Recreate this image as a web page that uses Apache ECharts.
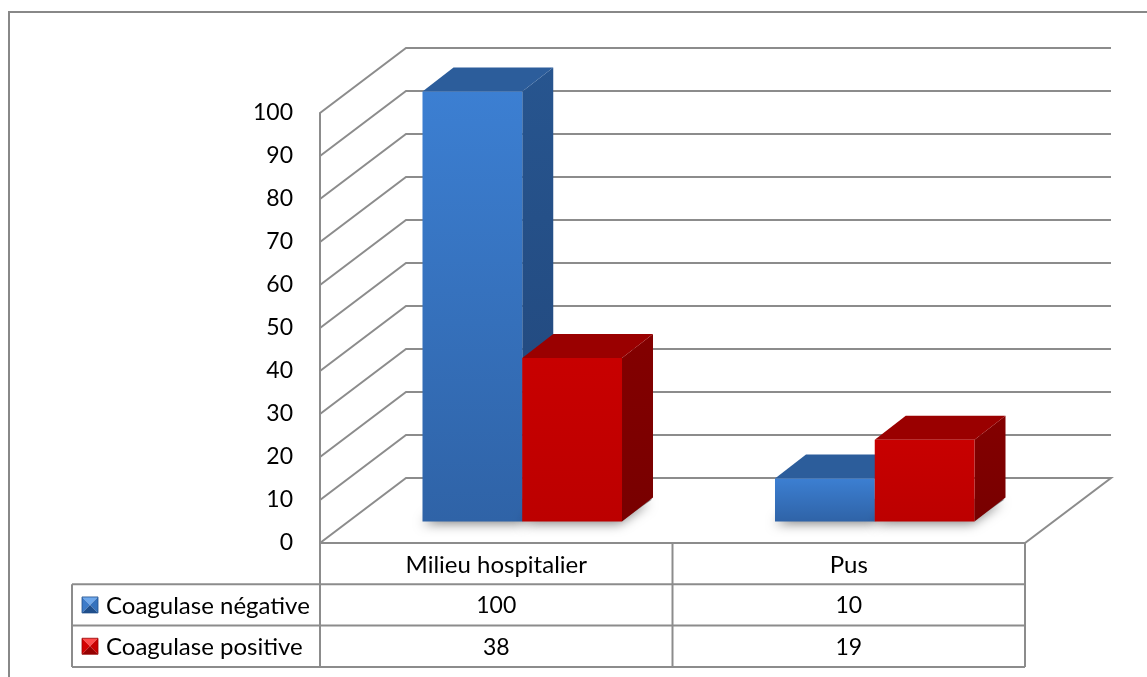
<!DOCTYPE html>
<html><head><meta charset="utf-8">
<script src="https://cdn.jsdelivr.net/npm/echarts@6/dist/echarts.min.js"></script>
<style>html,body{margin:0;padding:0;background:#fff}#c{width:1147px;height:677px}</style>
</head><body><div id="c"></div>
<script>
// ---- data ----
const categories = ['Milieu hospitalier', 'Pus'];
const seriesNames = ['Coagulase négative', 'Coagulase positive'];
const negValues = [100, 10];
const posValues = [38, 19];
const yTicks = [0, 10, 20, 30, 40, 50, 60, 70, 80, 90, 100];

// ---- style constants ----
const FONT = 'Lato';
const FS = 23;      // digits
const FS_TXT = 24;  // words
const LINE = '#8c8c8c';
const DX = 86, DY = -65;          // depth of floor / walls
const FX = 28.5, FY = -21.5;      // bar front offset into depth
const BX = 31, BY = -24;          // bar depth
const BAR_FRAC = 0.283, SHIFT = 2.5;
const ROW_H = 41.3;

const palettes = [
  {front: ['#3c7fd2', '#2f63a7'], side: ['#27558f', '#21467a'], top: '#2c5d9b',
   key: {t: '#6ea8ec', l: '#3c7bc9', r: '#3572bd', b: '#1f4f8c'}},
  {front: ['#c80000', '#bc0000'], side: ['#830000', '#780000'], top: '#9a0000',
   key: {t: '#ff4a4a', l: '#d40000', r: '#c80000', b: '#960000'}}
];
const allValues = [negValues, posValues];

function grad(a, b) {
  return {type: 'linear', x: 0, y: 0, x2: 0, y2: 1, colorStops: [{offset: 0, color: a}, {offset: 1, color: b}]};
}

function wallRender(params, api) {
  const cs = params.coordSys;
  const v = api.value(1);
  const y = api.coord([0, v])[1];
  const x0 = cs.x, x1 = cs.x + cs.width;
  const pts = v === 0
    ? [[x0, y], [x0 + DX, y + DY], [x1 + DX, y + DY], [x1, y], [x0, y]]
    : [[x0, y], [x0 + DX, y + DY], [x1 + DX, y + DY]];
  return {type: 'polyline', shape: {points: pts}, style: {stroke: LINE, lineWidth: 2, fill: null}};
}

function barRender(sIdx) {
  const p = palettes[sIdx];
  return function (params, api) {
    const ci = api.value(0), v = api.value(1);
    const base = api.coord([ci, 0]);
    const top = api.coord([ci, v]);
    const band = api.size([1, 0])[0];
    const bw = band * BAR_FRAC;
    const left = base[0] - bw - SHIFT + sIdx * bw + FX;
    const right = left + bw;
    const yb = base[1] + FY, yt = top[1] + FY;
    return {type: 'group', children: [
      {type: 'polygon', shape: {points: [[left + 3, yb - 1], [left + BX, yb + BY], [right + BX - 1, yb + BY + 2], [right, yb - 1]]},
        style: {fill: '#8a8a8a', shadowBlur: 12, shadowColor: 'rgba(0,0,0,0.5)', shadowOffsetX: -3, shadowOffsetY: 3}},
      {type: 'polygon', shape: {points: [[right, yt], [right + BX, yt + BY], [right + BX, yb + BY], [right, yb]]},
        style: {fill: grad(p.side[0], p.side[1])}},
      {type: 'polygon', shape: {points: [[left, yt], [left + BX, yt + BY], [right + BX, yt + BY], [right, yt]]},
        style: {fill: p.top}},
      {type: 'rect', shape: {x: left, y: yt, width: bw, height: yb - yt},
        style: {fill: grad(p.front[0], p.front[1])}}
    ]};
  };
}

function keyIcon(x, y, s, k) {
  const c = [x + s / 2, y + s / 2];
  return [
    {type: 'polygon', shape: {points: [[x, y], [x + s, y], c]}, style: {fill: k.t}},
    {type: 'polygon', shape: {points: [[x, y], c, [x, y + s]]}, style: {fill: k.l}},
    {type: 'polygon', shape: {points: [[x + s, y], [x + s, y + s], c]}, style: {fill: k.r}},
    {type: 'polygon', shape: {points: [[x, y + s], c, [x + s, y + s]]}, style: {fill: k.b}},
    {type: 'rect', shape: {x: x, y: y, width: s, height: s}, style: {fill: null, stroke: k.b, lineWidth: 0.8}}
  ];
}

function tableRender(params, api) {
  const idx = params.dataIndex;
  const cs = params.coordSys;
  const base = api.coord([idx, 0]);
  const band = api.size([1, 0])[0];
  const cx = base[0];
  const y0 = base[1];
  const xl = cx - band / 2, xr = cx + band / 2;
  const yEnd = y0 + ROW_H * 3;
  const children = [];
  const ln = (pts) => ({type: 'polyline', shape: {points: pts}, style: {stroke: LINE, lineWidth: 2, fill: null}});
  if (idx === 0) children.push(ln([[xl, y0], [xl, yEnd]]));
  children.push(ln([[xr, y0], [xr, yEnd]]));
  const txt = (t, x, y, fs, align) => ({type: 'text', style: {text: t, x: x, y: y, align: align || 'center', verticalAlign: 'middle',
    fontSize: fs, fontFamily: FONT, fill: '#000'}});
  children.push(txt(categories[idx], cx, y0 + ROW_H / 2 + 2, FS_TXT));
  for (let s = 0; s < allValues.length; s++) {
    children.push(txt(String(allValues[s][idx]), cx, y0 + ROW_H * (s + 1.5) + 1, FS));
  }
  if (idx === 0) {
    const lx = 72;
    const xEnd = cs.x + cs.width;
    children.push(ln([[lx, y0 + ROW_H], [lx, yEnd]]));
    for (let r = 1; r <= 3; r++) children.push(ln([[lx, y0 + ROW_H * r], [xEnd, y0 + ROW_H * r]]));
    for (let s = 0; s < seriesNames.length; s++) {
      const cyy = y0 + ROW_H * (s + 1.5);
      keyIcon(82, cyy - 8, 16, palettes[s].key).forEach(e => children.push(e));
      children.push(txt(seriesNames[s], 106, cyy + 1, FS_TXT, 'left'));
    }
  }
  return {type: 'group', children: children};
}

const chart = echarts.init(document.getElementById('c'), null, {renderer: 'canvas'});
chart.setOption({
  animation: false,
  backgroundColor: '#fff',
  graphic: [{type: 'rect', shape: {x: 9, y: 12, width: 1300, height: 800},
    style: {fill: null, stroke: '#888', lineWidth: 2}, silent: true, z: 0}],
  grid: {left: 320, top: 113, width: 705, height: 430, outerBoundsMode: 'none', containLabel: false},
  xAxis: {type: 'category', data: categories, axisLine: {show: false}, axisTick: {show: false},
    axisLabel: {show: false}, splitLine: {show: false}},
  yAxis: {type: 'value', min: 0, max: 100, interval: 10,
    axisLine: {show: true, lineStyle: {color: LINE, width: 2}}, axisTick: {show: false}, splitLine: {show: false},
    axisLabel: {color: '#000', fontSize: FS, fontFamily: FONT, margin: 27, padding: [6, 0, 0, 0]}},
  series: [
    {type: 'custom', name: 'walls', renderItem: wallRender, data: yTicks.map(v => [0, v]), clip: false, z: 1, silent: true},
    {type: 'custom', name: seriesNames[0], renderItem: barRender(0), data: negValues.map((v, i) => [i, v]), clip: false, z: 2},
    {type: 'custom', name: seriesNames[1], renderItem: barRender(1), data: posValues.map((v, i) => [i, v]), clip: false, z: 3},
    {type: 'custom', name: 'table', renderItem: tableRender, data: categories.map((c, i) => [i, 0]), clip: false, z: 4, silent: true}
  ]
});
</script></body></html>
